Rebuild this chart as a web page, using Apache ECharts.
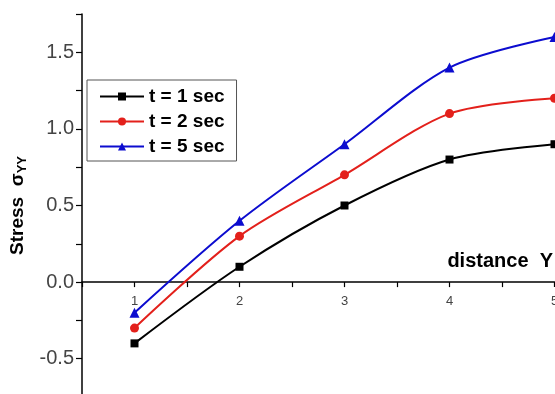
<!DOCTYPE html>
<html>
<head>
<meta charset="utf-8">
<script src="https://cdn.jsdelivr.net/npm/echarts@6/dist/echarts.min.js"></script>
<style>
  html, body { margin: 0; padding: 0; background: #fff; }
  #chart { width: 555px; height: 394px; }
</style>
</head>
<body>
<div id="chart"></div>
<script>
  // distance Y values
  const distance = [1, 2, 3, 4, 5]
  // stress for each time
  const t1 = [-0.4, 0.1, 0.5, 0.8, 0.9]
  const t2 = [-0.3, 0.3, 0.7, 1.1, 1.2]
  const t5 = [-0.2, 0.4, 0.9, 1.4, 1.6]
  const seriesNames = ['t = 1 sec', 't = 2 sec', 't = 5 sec']

  const font = '"Liberation Sans", Arial, sans-serif'

  const chart = echarts.init(document.getElementById('chart'))

  const mkSeries = (name, ys, color, symbol, size) => ({
    name,
    type: 'line',
    data: distance.map((x, i) => [x, ys[i]]),
    smooth: 0.3,
    symbol,
    symbolSize: size,
    lineStyle: { color, width: 2 },
    itemStyle: { color },
    z: 3
  })

  const xRange = { type: 'value', min: 0.5, max: 5, interval: 0.5 }

  const option = {
    animation: false,
    textStyle: { fontFamily: font },
    grid: { left: 82, right: 0.5, top: 14, bottom: -3, containLabel: false, outerBoundsMode: 'none' },
    legend: {
      orient: 'vertical',
      left: 87,
      top: 80,
      data: seriesNames,
      itemWidth: 44,
      itemHeight: 10,
      itemGap: 6,
      padding: [7, 12, 5, 12],
      borderColor: '#555',
      borderWidth: 1,
      textStyle: { fontSize: 19, fontWeight: 'bold', color: '#000', fontFamily: font }
    },
    xAxis: [
      {
        ...xRange,
        axisLine: { onZero: true, lineStyle: { color: '#000', width: 1.5 } },
        axisTick: { show: true, length: 5, lineStyle: { color: '#000', width: 1.2 } },
        axisLabel: { show: false },
        splitLine: { show: false }
      },
      {
        // labels only, placed just under the zero line
        ...xRange,
        position: 'bottom',
        offset: -115,
        axisLine: { show: false, onZero: false },
        axisTick: { show: false },
        axisLabel: {
          fontSize: 13,
          color: '#444',
          margin: 13,
          formatter: v => (v % 1 === 0 ? String(v) : '')
        },
        splitLine: { show: false }
      }
    ],
    yAxis: {
      type: 'value',
      min: -0.75,
      max: 1.75,
      interval: 0.25,
      name: '{a|Stress  σ}{b|YY}',
      nameLocation: 'middle',
      nameGap: 48,
      nameTextStyle: {
        rich: {
          a: { fontSize: 19, fontWeight: 'bold', color: '#000', fontFamily: font },
          b: { fontSize: 13, fontWeight: 'bold', color: '#000', fontFamily: font, verticalAlign: 'bottom', padding: [8, 0, 0, 0] }
        }
      },
      axisLine: { show: true, lineStyle: { color: '#000', width: 1.5 } },
      axisTick: { show: true, length: 6, lineStyle: { color: '#000', width: 1.2 } },
      axisLabel: {
        fontSize: 20,
        color: '#444',
        margin: 8,
        formatter: v => (Math.abs(v * 2 - Math.round(v * 2)) < 1e-9 && v < 1.7 && v > -0.7 ? v.toFixed(1) : '')
      },
      splitLine: { show: false }
    },
    graphic: [
      {
        type: 'text',
        right: 2,
        top: 251,
        style: { text: 'distance  Y', font: 'bold 20px ' + font, fill: '#000' }
      }
    ],
    series: [
      mkSeries(seriesNames[0], t1, '#000000', 'rect', 8),
      mkSeries(seriesNames[1], t2, '#e3201b', 'circle', 9),
      mkSeries(seriesNames[2], t5, '#0c0ccf', 'triangle', 10)
    ]
  }

  chart.setOption(option)
</script>
</body>
</html>
